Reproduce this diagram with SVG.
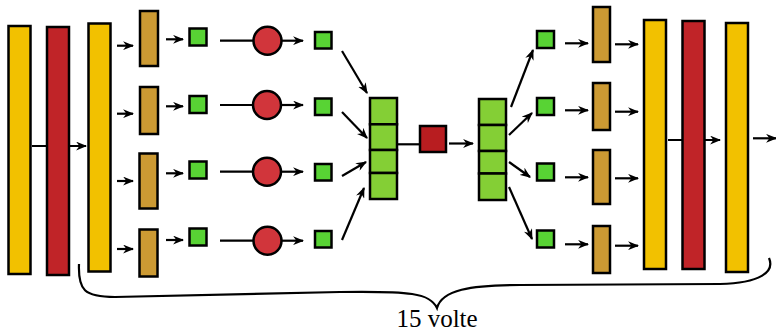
<svg xmlns="http://www.w3.org/2000/svg" width="776" height="333" viewBox="0 0 776 333">
<defs>
<style>
.ln{stroke:#000;stroke-width:2.2;fill:none}
.ar{stroke:#000;stroke-width:2.2;fill:none;marker-end:url(#ah)}
.b{stroke:#000;stroke-width:2.5}
.yel{fill:#F2C100}
.red{fill:#C02428}
.brn{fill:#CC9A33}
.gs{fill:#58D334}
.gk{fill:#84CF35}
.cir{fill:#D1353B}
.rsq{fill:#B81D20}
</style>
<marker id="ah" viewBox="0 0 10 8" refX="9" refY="4" markerWidth="11" markerHeight="9" markerUnits="userSpaceOnUse" orient="auto">
<path d="M0,0 L10,4 L0,8 L3,4 z" fill="#000"/>
</marker>
</defs>
<rect width="776" height="333" fill="#fff"/>
<g id="connectors">
<line class="ar" x1="32" y1="146" x2="86" y2="146"/>
<line class="ar" x1="117" y1="45.7" x2="133" y2="45.7"/>
<line class="ar" x1="117" y1="113.7" x2="133" y2="113.7"/>
<line class="ar" x1="117" y1="181" x2="133" y2="181"/>
<line class="ar" x1="117" y1="249" x2="133" y2="249"/>
<line class="ar" x1="166" y1="39.3" x2="183" y2="39.3"/>
<line class="ar" x1="166" y1="106.3" x2="183" y2="106.3"/>
<line class="ar" x1="166" y1="173.3" x2="183" y2="173.3"/>
<line class="ar" x1="166" y1="240" x2="183" y2="240"/>
<line class="ln" x1="220" y1="40.7" x2="254" y2="40.7"/>
<line class="ln" x1="220" y1="105" x2="254" y2="105"/>
<line class="ln" x1="220" y1="171.7" x2="254" y2="171.7"/>
<line class="ln" x1="220" y1="240.7" x2="254" y2="240.7"/>
<line class="ar" x1="281" y1="40.7" x2="303" y2="40.7"/>
<line class="ar" x1="281" y1="105" x2="303" y2="105"/>
<line class="ar" x1="281" y1="171.7" x2="303" y2="171.7"/>
<line class="ar" x1="281" y1="240.7" x2="303" y2="240.7"/>
<line class="ar" x1="342" y1="51" x2="367" y2="93"/>
<line class="ar" x1="342" y1="112" x2="367" y2="138"/>
<line class="ar" x1="342" y1="176" x2="366" y2="162"/>
<line class="ar" x1="342" y1="240" x2="364" y2="188"/>
<line class="ln" x1="398" y1="144.3" x2="420" y2="144.3"/>
<line class="ar" x1="449" y1="143.5" x2="473" y2="143.5"/>
<line class="ar" x1="511" y1="107" x2="533" y2="50"/>
<line class="ar" x1="509" y1="135" x2="532" y2="113"/>
<line class="ar" x1="509" y1="162" x2="530" y2="177"/>
<line class="ar" x1="509" y1="187" x2="532" y2="239"/>
<line class="ar" x1="565" y1="43.3" x2="588" y2="43.3"/>
<line class="ar" x1="565" y1="110.3" x2="588" y2="110.3"/>
<line class="ar" x1="565" y1="177.3" x2="588" y2="177.3"/>
<line class="ar" x1="565" y1="244.3" x2="588" y2="244.3"/>
<line class="ar" x1="615" y1="44.3" x2="638" y2="44.3"/>
<line class="ar" x1="615" y1="111.7" x2="638" y2="111.7"/>
<line class="ar" x1="615" y1="178.3" x2="638" y2="178.3"/>
<line class="ar" x1="615" y1="245.7" x2="638" y2="245.7"/>
<line class="ar" x1="668" y1="140" x2="720" y2="140"/>
<line class="ar" x1="753" y1="138.3" x2="776" y2="138.3"/>
</g>
<g id="in-yellow1"><rect class="b yel" x="8.5" y="26" width="22" height="248"/></g>
<g id="in-red"><rect class="b red" x="47" y="27" width="22" height="248"/></g>
<g id="in-yellow2"><rect class="b yel" x="88.5" y="23.5" width="22" height="248"/></g>
<g id="brownL1"><rect class="b brn" x="140" y="11" width="18" height="55"/></g>
<g id="brownL2"><rect class="b brn" x="140" y="87" width="18" height="47"/></g>
<g id="brownL3"><rect class="b brn" x="139.5" y="153.5" width="18" height="55"/></g>
<g id="brownL4"><rect class="b brn" x="139.5" y="229.5" width="18" height="47"/></g>
<g id="gA1"><rect class="b gs" x="189.5" y="28.5" width="17" height="17"/></g>
<g id="gA2"><rect class="b gs" x="189.5" y="96" width="17" height="17"/></g>
<g id="gA3"><rect class="b gs" x="189.5" y="161.5" width="17" height="17"/></g>
<g id="gA4"><rect class="b gs" x="189.5" y="228.5" width="17" height="17"/></g>
<g id="c1"><circle class="b cir" cx="267.5" cy="40.7" r="14"/></g>
<g id="c2"><circle class="b cir" cx="267" cy="105" r="14"/></g>
<g id="c3"><circle class="b cir" cx="267" cy="171.7" r="14"/></g>
<g id="c4"><circle class="b cir" cx="267.5" cy="240.7" r="14"/></g>
<g id="gB1"><rect class="b gs" x="315" y="32" width="16.5" height="16.5"/></g>
<g id="gB2"><rect class="b gs" x="315" y="98.5" width="16.5" height="16.5"/></g>
<g id="gB3"><rect class="b gs" x="315" y="164" width="16.5" height="16.5"/></g>
<g id="gB4"><rect class="b gs" x="315" y="231" width="16.5" height="16.5"/></g>
<g id="stackL">
<rect class="b gk" x="370" y="98" width="27" height="26.3"/>
<rect class="b gk" x="370" y="124.3" width="27" height="25.7"/>
<rect class="b gk" x="370" y="150" width="27" height="23"/>
<rect class="b gk" x="370" y="173" width="27" height="26"/>
</g>
<g id="redsq"><rect class="b rsq" x="420" y="126" width="26" height="26"/></g>
<g id="stackR">
<rect class="b gk" x="479" y="99" width="27" height="26"/>
<rect class="b gk" x="479" y="125" width="27" height="26"/>
<rect class="b gk" x="479" y="151" width="27" height="22.5"/>
<rect class="b gk" x="479" y="173.5" width="27" height="26.5"/>
</g>
<g id="gC1"><rect class="b gs" x="537" y="31" width="17" height="17"/></g>
<g id="gC2"><rect class="b gs" x="537" y="98" width="17" height="17"/></g>
<g id="gC3"><rect class="b gs" x="537" y="163.5" width="17" height="17"/></g>
<g id="gC4"><rect class="b gs" x="537" y="230.5" width="17" height="17"/></g>
<g id="brownR1"><rect class="b brn" x="593" y="7" width="17" height="55"/></g>
<g id="brownR2"><rect class="b brn" x="593" y="83" width="17" height="47"/></g>
<g id="brownR3"><rect class="b brn" x="593" y="150" width="17" height="54"/></g>
<g id="brownR4"><rect class="b brn" x="593" y="226" width="17" height="47"/></g>
<g id="out-yellow1"><rect class="b yel" x="644" y="20" width="22" height="249"/></g>
<g id="out-red"><rect class="b red" x="682.5" y="21" width="22" height="248"/></g>
<g id="out-yellow2"><rect class="b yel" x="726" y="23" width="22" height="249"/></g>
<g id="brace">
<path class="ln" d="M79,264 C78,290 84,297 115,297 L340,292 C410,291 430,293 437,308 C442,290 470,285 520,285 L720,284 C760,283 775,272 769,258"/>
<text x="437" y="327" font-family="'Liberation Serif', serif" font-size="25" text-anchor="middle">15 volte</text>
</g>
</svg>
